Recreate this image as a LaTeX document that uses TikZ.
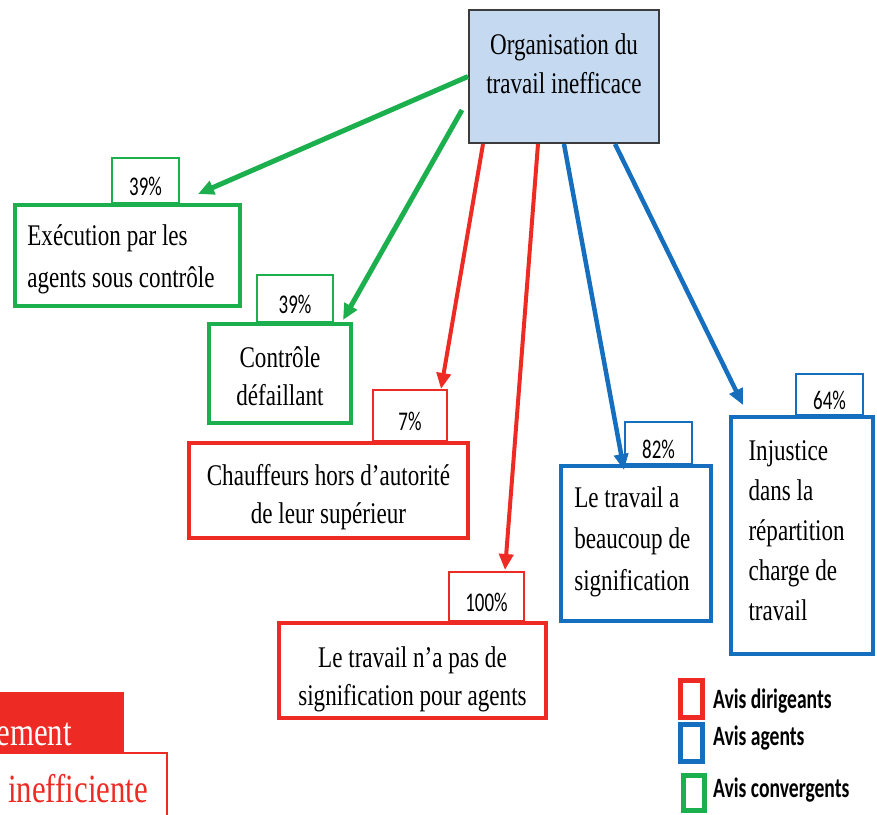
\documentclass[tikz,border=0pt]{standalone}
\usepackage{fontspec}
\setmainfont{Liberation Serif}[FakeStretch=0.77]
\newfontfamily\pctfont{Carlito}[FakeStretch=0.7]
\usetikzlibrary{arrows.meta}
\definecolor{mygreen}{RGB}{28,175,77}
\definecolor{myred}{RGB}{237,43,36}
\definecolor{myblue}{RGB}{22,110,190}
\definecolor{mainfill}{RGB}{197,217,240}
\definecolor{mainborder}{RGB}{60,60,60}
\tikzset{
  txt/.style={font=\fontsize{30}{#1}\selectfont},
  cbox/.style={draw=#1, line width=4.5pt, fill=white, inner sep=0pt},
  pct/.style={draw=#1, line width=1.3pt, fill=white, inner sep=0pt,
    font=\pctfont\fontsize{27}{27}\selectfont, text height=30pt, text depth=0pt},
  arr/.style={draw=#1, line width=4.5pt, -{Triangle[length=16pt,width=14pt]}},
  legsq/.style={draw=#1, line width=5pt, fill=white, inner sep=0pt,
    minimum width=22pt, minimum height=37pt},
  legtxt/.style={anchor=base west, inner sep=0pt,
    font=\pctfont\bfseries\fontsize{28}{28}\selectfont}
}
\begin{document}
\begin{tikzpicture}[x=1pt,y=-1pt]
\useasboundingbox (0,0) rectangle (877,814);

% percent boxes
\node[pct=mygreen, minimum width=67pt, minimum height=45pt] (p1) at (145.5,180.5) {39\%};
\node[pct=mygreen, minimum width=76pt, minimum height=47pt] (p2) at (295,298.5) {39\%};
\node[pct=myred, minimum width=74pt, minimum height=51pt] (p3) at (410,415.5) {7\%};
\node[pct=myred, minimum width=75pt, minimum height=49pt] (p4) at (486.5,596.5) {100\%};
\node[pct=myblue, minimum width=67pt, minimum height=42pt] (p5) at (658.5,443) {82\%};
\node[pct=myblue, minimum width=67pt, minimum height=41pt] (p6) at (829.5,394.5) {64\%};

% main box
\node[draw=mainborder, line width=2pt, fill=mainfill, minimum width=190pt,
  minimum height=133pt, align=center, txt=39, text height=60pt, text depth=27pt] (main) at (564,76.5)
  {Organisation du\\travail inefficace};

% boxes
\node[cbox=mygreen, txt=42, minimum width=225pt, minimum height=101pt,
  align=left, text height=69pt, text depth=6pt] (exec) at (127.5,255.5)
  {Exécution par les\\agents sous contrôle\hspace*{13pt}};
\node[cbox=mygreen, txt=38, minimum width=142pt, minimum height=99pt,
  align=center, text height=63pt, text depth=0pt] (ctrl) at (280,373.5) {Contrôle\\défaillant};
\node[cbox=myred, txt=38, minimum width=279pt, minimum height=95pt,
  align=center, text height=65pt, text depth=0pt] (chauf) at (328.5,490.5)
  {Chauffeurs hors d’autorité\\de leur supérieur};
\node[cbox=myred, txt=38, minimum width=267pt, minimum height=95pt,
  align=center, text height=69pt, text depth=0pt] (nonsig) at (412.5,670.5)
  {Le travail n’a pas de\\signification pour agents};
\node[cbox=myblue, txt=41.5, minimum width=150pt, minimum height=155pt,
  align=left, text height=104pt, text depth=11pt] (sig) at (636,543.5)
  {Le travail a\\beaucoup de\\signification\hspace*{8pt}};
\node[cbox=myblue, txt=40, minimum width=142pt, minimum height=237pt,
  align=left, text height=181pt, text depth=12pt] (inj) at (802,535.5)
  {Injustice\\dans la\\répartition\\charge de\\travail\hspace*{48pt}};

% arrow tips
\coordinate (t1) at (198,194);
\coordinate (t2) at (343,320);
\coordinate (t3) at (441,389);
\coordinate (t4) at (505,570);
\coordinate (t5) at (624,470);
\coordinate (t6) at (743,405);
\coordinate (s2) at (462,110);

\draw[arr=mygreen, line width=5pt] (main.west) -- (t1);
\draw[arr=mygreen, line width=5pt] (s2) -- (t2);
\draw[arr=myred, line width=4pt] ([xshift=15pt]main.south west) -- (t3);
\draw[arr=myred, line width=4pt] ([xshift=-26pt]main.south) -- (t4);
\draw[arr=myblue] (main.south) -- (t5);
\draw[arr=myblue] ([xshift=51pt]main.south) -- (t6);

% legend
\node[legsq=myred] (lr) at (691.5,699) {};
\node[legsq=myblue] (lb) at (691.5,743) {};
\node[legsq=mygreen, minimum width=21pt, minimum height=35pt] (lg) at (694,793) {};
\node[legtxt] (lrt) at (713,708) {Avis dirigeants};
\node[legtxt] (lbt) at (713,745) {Avis agents};
\node[legtxt] (lgt) at (713,797) {Avis convergents};

% bottom-left fragments
\node[fill=myred, draw=myred, line width=1pt, minimum width=223pt, minimum height=60pt,
  inner sep=0pt] (fragA) at (11.5,722) {};
\node[anchor=base east, inner sep=0pt, text=white, font=\fontsize{40}{48}\selectfont]
  (fragAt) at (72,745) {ement};
\node[fill=white, draw=myred, line width=1.5pt, minimum width=267pt, minimum height=150pt,
  inner sep=0pt] (fragB) at (33.5,828) {};
\node[anchor=base west, inner sep=0pt, text=myred, font=\fontsize{40}{48}\selectfont]
  (fragBt) at (8,802) {inefficiente};
\end{tikzpicture}
\end{document}
